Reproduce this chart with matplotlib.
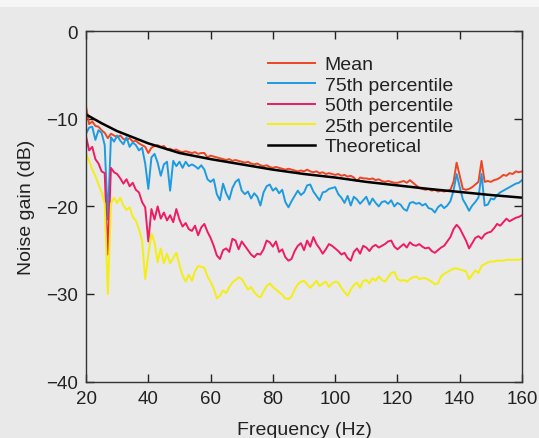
import numpy as np
import matplotlib.pyplot as plt
from matplotlib.patches import Rectangle

plt.rcParams['font.family'] = ['Liberation Sans', 'DejaVu Sans']

# Frequency axis (Hz), 1 Hz steps
freq = np.arange(20, 161)

# Noise gain curves (dB)
mean_db = [
    -8.6, -10.6, -10.3, -10.8, -10.9, -11.3, -11.6, -12.2, -11.7, -11.9,
    -12.1, -11.9, -12.3, -12.4, -12.2, -12.6, -12.5, -12.8, -13.0, -13.2,
    -13.9, -13.3, -13.1, -13.0, -13.2, -13.1, -13.5, -13.4, -13.6, -13.5,
    -13.7, -13.8, -13.7, -13.8, -13.9, -13.8, -14.0, -13.9, -13.9, -14.4,
    -14.2, -14.3, -14.4, -14.5, -14.6, -14.7, -14.6, -14.8, -14.7, -14.8,
    -14.9, -15.0, -14.9, -15.1, -15.2, -15.1, -15.3, -15.4, -15.3, -15.5,
    -15.6, -15.5, -15.6, -15.7, -15.8, -15.7, -15.8, -15.9, -16.0, -15.9,
    -16.0, -15.8, -16.0, -16.1, -16.0, -16.2, -16.1, -16.3, -16.2, -16.3,
    -16.4, -16.3, -16.5, -16.4, -16.6, -16.5, -16.7, -17.1, -16.7, -16.8,
    -16.8, -16.9, -16.8, -17.0, -16.9, -17.1, -17.2, -17.1, -17.2, -17.3,
    -17.3, -17.2, -17.1, -17.3, -17.0, -17.3, -17.6, -17.9, -18.0, -18.1,
    -18.0, -18.2, -18.1, -18.3, -18.2, -18.3, -18.2, -18.1, -17.2, -15.0,
    -16.5, -18.0, -18.1, -18.0, -17.8, -17.5, -17.2, -14.8, -17.2, -17.1,
    -17.2, -17.0, -16.9, -16.7, -16.4, -16.5, -16.2, -16.3, -16.0, -16.1,
    -16.0,
]

p75_db = [
    -11.7, -11.0, -10.9, -12.4, -11.3, -11.6, -13.0, -21.5, -12.1, -12.6,
    -11.9, -12.5, -12.9, -12.1, -13.2, -12.7, -13.0, -13.6, -13.3, -15.1,
    -18.0, -14.4, -14.0, -15.0, -16.5, -15.2, -14.9, -18.2, -14.8, -15.4,
    -14.9, -15.6, -14.9, -15.4, -15.2, -15.4, -15.7, -15.3, -15.8, -16.9,
    -17.2, -16.9, -18.6, -19.3, -17.4, -18.5, -19.2, -17.9, -17.2, -16.9,
    -18.2, -18.6, -18.3, -19.1, -18.5, -18.9, -19.9, -18.4, -17.7, -17.5,
    -18.2, -17.9, -18.5, -18.1, -19.5, -20.1, -19.4, -18.8, -18.2, -18.7,
    -18.4, -17.6, -17.5, -18.3, -18.8, -19.3, -18.4, -18.3, -18.0, -17.9,
    -17.8, -18.6, -19.0, -19.6, -18.8, -19.9, -18.9, -19.2, -19.7, -19.3,
    -18.9, -19.8, -19.1, -19.6, -20.0, -19.5, -19.4, -19.7, -19.3, -20.0,
    -19.6, -19.8, -20.3, -20.5, -19.6, -19.5, -19.7, -19.6, -19.9, -19.7,
    -20.2, -20.3, -20.7, -20.1, -19.8, -20.2, -19.9, -19.4, -18.2, -16.3,
    -17.8, -19.2, -19.8, -20.5, -19.9, -19.5, -19.0, -16.3, -19.9, -19.8,
    -19.1, -19.2, -18.7, -18.4, -18.2, -18.0, -17.8, -17.6, -17.4, -17.3,
    -17.0,
]

p50_db = [
    -12.0, -13.6, -13.2, -14.6, -15.1, -16.0, -16.2, -25.5, -15.6, -16.1,
    -16.3, -16.8, -17.4, -16.9, -17.7, -17.3, -18.1, -18.4, -19.5, -20.1,
    -24.0, -20.3, -21.5, -20.0, -21.4, -20.7, -21.6, -21.0, -21.8, -20.3,
    -21.5, -22.3, -21.9, -22.6, -22.8, -22.2, -23.3, -22.4, -22.0, -22.9,
    -23.6, -24.5, -25.6, -26.0, -25.0, -24.8, -25.2, -23.7, -23.9, -24.9,
    -24.0, -24.5, -25.0, -25.5, -25.8, -25.4, -25.5, -24.9, -23.9, -24.1,
    -24.6, -24.0, -25.2, -24.9, -25.8, -26.2, -26.0, -25.1, -24.5, -24.2,
    -25.0, -23.9, -24.6, -23.5, -24.3, -24.8, -25.4, -24.9, -24.3, -24.5,
    -24.8, -25.1, -25.5, -25.3, -25.9, -26.2, -25.2, -24.8, -25.4, -24.5,
    -24.7, -25.1, -24.6, -24.4, -24.7, -24.5, -24.3, -24.0, -23.9, -24.6,
    -24.9, -24.6, -24.3, -24.7, -24.1, -24.4, -24.5, -24.3, -24.6, -24.8,
    -24.7, -25.1, -25.3, -25.0, -24.7, -24.5, -24.0, -23.5, -22.6, -22.1,
    -22.5, -23.2, -23.9, -24.8, -24.2, -23.6, -23.4, -23.7, -23.2, -23.0,
    -22.9, -22.5, -22.0, -22.2, -21.8, -21.4, -21.7, -21.5, -21.3, -21.2,
    -21.0,
]

p25_db = [
    -13.9, -14.8, -15.8, -16.5, -17.5, -18.4, -19.7, -30.0, -19.7, -19.0,
    -19.6, -19.0, -19.9, -20.4, -20.1, -21.2, -21.6, -22.6, -23.9, -28.3,
    -25.5, -23.1, -24.1, -26.4, -24.8, -26.5, -25.4, -26.5, -25.9, -25.3,
    -26.7, -27.9, -28.6, -27.8, -28.5, -27.4, -26.8, -26.9, -27.0, -28.0,
    -28.6, -29.4, -30.5, -30.2, -29.6, -29.9, -29.2, -28.7, -28.4, -28.1,
    -28.3, -28.9, -29.5, -29.2, -29.8, -30.2, -30.4, -29.7, -29.1, -28.8,
    -29.2, -29.5, -29.8, -30.1, -30.5, -30.6, -30.3, -29.5, -28.9, -28.6,
    -28.5, -28.9, -29.3, -28.9, -28.5, -29.1, -28.8, -28.6, -29.2, -28.8,
    -28.6, -28.7, -29.3, -29.8, -30.2, -29.5, -29.0, -28.7, -29.3, -28.5,
    -28.4, -28.8, -28.2, -28.5, -28.0, -28.4, -28.6, -28.1, -27.6, -27.5,
    -28.3, -28.5, -28.4, -28.6, -28.3, -28.1, -28.0, -28.3, -28.2, -28.2,
    -28.4, -28.6, -28.9, -28.8, -28.0, -27.7, -27.5, -27.3, -27.1, -27.1,
    -27.2, -27.3, -27.4, -28.3, -27.8, -27.3, -27.6, -26.8, -26.6, -26.4,
    -26.3, -26.3, -26.2, -26.2, -26.2, -26.1, -26.1, -26.1, -26.1, -26.1,
    -26.0,
]

# Theoretical curve, read at coarser steps
theo_freq = [20, 25, 30, 35, 40, 50, 60, 70, 80, 90, 100, 110, 120, 130, 140, 150, 160]
theo_db = [-9.5, -10.5, -11.4, -12.1, -12.8, -13.9, -14.6, -15.2, -15.8, -16.3,
           -16.7, -17.2, -17.6, -18.0, -18.35, -18.7, -19.0]

bg = '#e9e9e9'
fig = plt.figure(figsize=(5.39, 4.39), dpi=100, facecolor=bg)
# lighter strip along the top edge of the scan
fig.patches.append(Rectangle((0, 1 - 8 / 439), 1, 8 / 439, transform=fig.transFigure,
                             facecolor='#f6f6f6', edgecolor='none', zorder=0))
ax = fig.add_axes([0.1596, 0.1287, 0.8089, 0.7977])
ax.set_facecolor(bg)

lw = 1.4
ax.plot(freq, mean_db, color='#ee4524', lw=lw, label='Mean')
ax.plot(freq, p75_db, color='#1e9be0', lw=lw, label='75th percentile')
ax.plot(freq, p50_db, color='#ee1c62', lw=lw, label='50th percentile')
ax.plot(freq, p25_db, color='#f4ee14', lw=lw, label='25th percentile')
ax.plot(theo_freq, theo_db, color='black', lw=1.8, label='Theoretical')

ax.set_xlim(20, 160)
ax.set_ylim(-40, 0)
ax.set_xticks(np.arange(20, 161, 20))
ax.set_yticks(np.arange(-40, 1, 10))
ax.set_yticklabels(['\u221240', '\u221230', '\u221220', '\u221210', '0'])
ax.tick_params(direction='in', length=6, width=1, top=True, right=True,
               labelsize=13.5, colors='#222222')
ax.tick_params(axis='x', pad=6)
ax.tick_params(axis='y', pad=6)
for s in ax.spines.values():
    s.set_color('#333333')
    s.set_linewidth(1.0)

ax.set_xlabel('Frequency (Hz)', fontsize=14, color='#222222', labelpad=10)
ax.set_ylabel('Noise gain (dB)', fontsize=14, color='#222222', labelpad=8)

leg = ax.legend(loc='upper left', bbox_to_anchor=(0.396, 0.958), frameon=False,
                fontsize=14, handlelength=2.4, handletextpad=0.5,
                labelspacing=0.15, borderpad=0)
for t in leg.get_texts():
    t.set_color('#222222')

fig.savefig('out.png', dpi=100, facecolor=bg)
